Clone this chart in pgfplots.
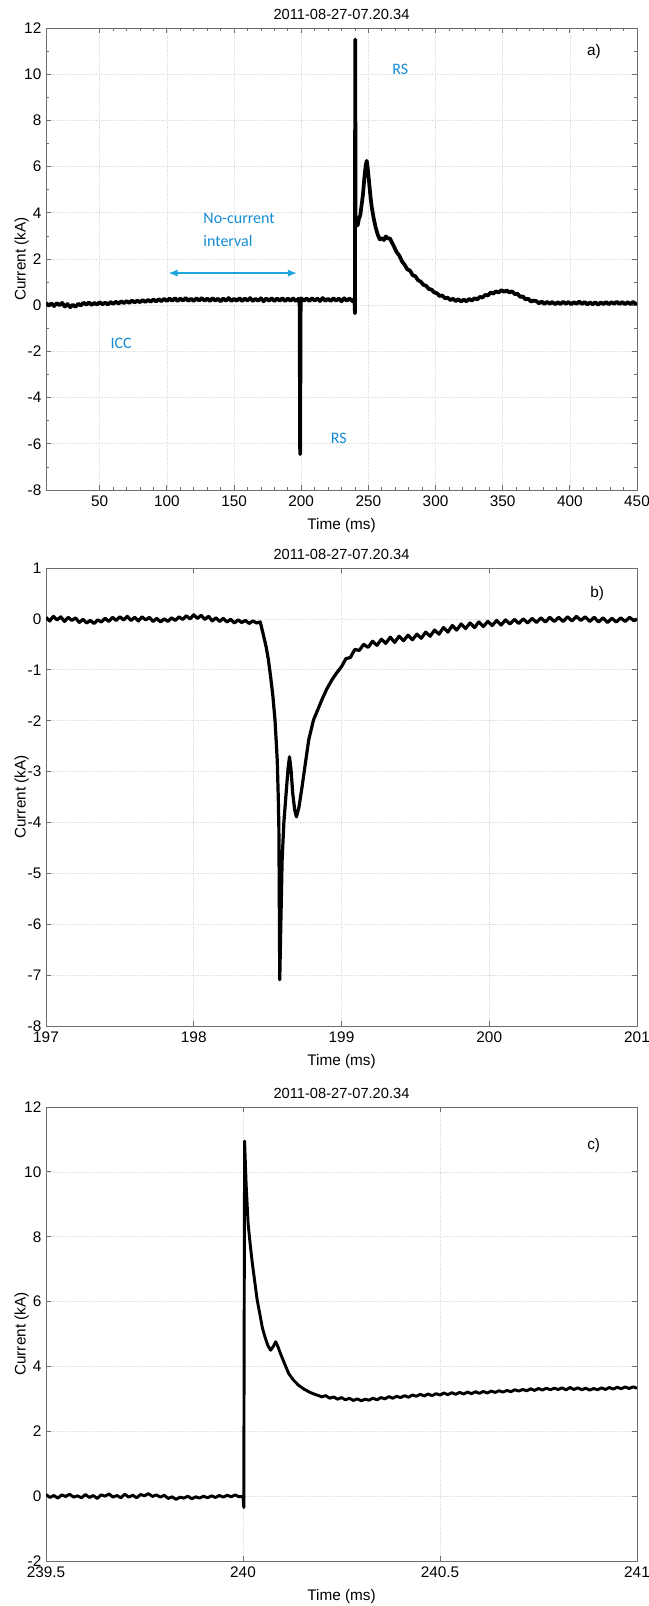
\documentclass[border=0pt]{standalone}
\usepackage{fontspec}
\setmainfont{Liberation Sans}
\newfontfamily\annofont{Carlito}
\usepackage{pgfplots}
\pgfplotsset{compat=1.18}
\usetikzlibrary{arrows.meta}
\definecolor{annoblue}{RGB}{20,140,210}
\definecolor{arrowblue}{RGB}{30,165,222}
\definecolor{axgray}{RGB}{110,110,110}
\pgfplotsset{
  matlab/.style={
    scale only axis, width=443.25pt,
    axis line style={axgray, line width=0.6pt},
    tick style={axgray, line width=0.6pt},
    major tick length=4pt, minor tick length=2pt,
    tick align=inside,
    xmajorgrids, ymajorgrids,
    major grid style={black!13, line width=0.5pt, dash pattern=on 1pt off 0.8pt},
    ticklabel style={font=\fontsize{11.5}{13}\selectfont},
    xticklabel style={yshift=-1pt},
    label style={font=\fontsize{11.5}{13}\selectfont},
    xlabel style={yshift=-2pt},
    ylabel style={at={(axis description cs:-0.0413,0.5)}, anchor=center},
    title style={font=\fontsize{11}{13}\selectfont, yshift=-3pt},
    /pgf/number format/assume math mode=true,
    xlabel={Time (ms)}, ylabel={Current (kA)},
    title={2011-08-27-07.20.34},
    anchor=north west,
  },
  trace/.style={black, line width=#1, line join=round, mark=none},
}
\begin{document}
\begin{tikzpicture}
\useasboundingbox (0,0) rectangle (486.75pt,-1204.5pt);
% ---------------- panel a ----------------
\begin{axis}[matlab, at={(34.5pt,-21pt)}, height=346.5pt,
  xmin=10, xmax=450, ymin=-8, ymax=12,
  xtick={50,100,...,450}, ytick={-8,-6,...,12},
  minor x tick num=4, minor y tick num=1]
\addplot[trace=2.8pt] coordinates {
(10,0.10)(12,-0.02)(14,0.08)(16,-0.04)(18,0.09)(20,0.00)(22,0.10)(24,-0.06)(26,0.05)(28,-0.09)
(30,0.02)(32,-0.07)(34,0.06)(36,-0.01)(38,0.11)(40,0.02)(42,0.12)(44,0.01)(46,0.10)(48,0.03)
(50,0.13)(52,0.04)(54,0.11)(56,0.03)(58,0.14)(60,0.06)(62,0.15)(64,0.07)(66,0.17)(68,0.09)
(70,0.18)(72,0.10)(74,0.20)(76,0.12)(78,0.20)(80,0.13)(82,0.22)(84,0.14)(86,0.23)(88,0.15)
(90,0.25)(92,0.16)(94,0.26)(96,0.17)(98,0.28)(100,0.18)(102,0.29)(104,0.19)(106,0.30)(108,0.18)
(110,0.29)(112,0.20)(114,0.31)(116,0.19)(118,0.28)(120,0.18)(122,0.30)(124,0.20)(126,0.31)(128,0.19)
(130,0.29)(132,0.18)(134,0.30)(136,0.20)(138,0.28)(140,0.17)(142,0.29)(144,0.19)(146,0.31)(148,0.18)
(150,0.28)(152,0.19)(154,0.30)(156,0.18)(158,0.29)(160,0.20)(162,0.31)(164,0.18)(166,0.28)(168,0.19)
(170,0.30)(172,0.17)(174,0.29)(176,0.19)(178,0.30)(180,0.18)(182,0.29)(184,0.20)(186,0.30)(188,0.18)
(190,0.29)(192,0.19)(194,0.30)(196,0.18)(198,0.28)(198.8,0.22)(199.2,-6.45)(199.6,0.20)
(200,0.30)(202,0.19)(204,0.29)(206,0.18)(208,0.30)(210,0.20)(212,0.29)(214,0.18)(216,0.31)(218,0.19)
(220,0.28)(222,0.18)(224,0.30)(226,0.20)(228,0.29)(230,0.17)(232,0.30)(234,0.19)(236,0.29)(238,0.18)
(239.6,0.28)(240,-0.35)(240.2,11.5)(240.5,3.4)
(241,3.7)(242,3.45)(243,3.75)(244,3.9)(245,4.35)(246,4.8)(247,5.5)(248,6.05)(248.8,6.25)(249.5,5.95)
(250.5,5.35)(251.5,4.75)(252.5,4.25)(254,3.75)(255.5,3.35)(257,3.05)(258.5,2.85)(260,2.9)(261.5,2.82)
(263,2.98)(264.5,2.88)(266,2.9)(267.5,2.72)(269,2.55)(271,2.3)(273,2.15)(275,1.9)(277,1.75)(279,1.55)
(281,1.5)(283,1.3)(285,1.25)(287,1.08)(289,1.02)(291,0.88)(293,0.84)(295,0.7)(297,0.68)(299,0.55)
(301,0.52)(303,0.4)(305,0.42)(307,0.3)(309,0.33)(311,0.22)(313,0.28)(315,0.18)(317,0.26)(319,0.16)
(321,0.24)(323,0.17)(325,0.27)(327,0.2)(329,0.3)(331,0.25)(333,0.36)(335,0.33)(337,0.45)(339,0.42)
(341,0.55)(343,0.5)(345,0.6)(347,0.55)(349,0.65)(351,0.58)(353,0.64)(355,0.55)(357,0.6)(359,0.48)
(361,0.5)(363,0.36)(365,0.38)(367,0.25)(369,0.28)(371,0.16)(373,0.2)
(375,0.18)(377,0.08)(379,0.16)(381,0.05)(383,0.15)(385,0.06)(387,0.14)(389,0.04)(391,0.13)(393,0.05)
(395,0.15)(397,0.06)(399,0.14)(401,0.04)(403,0.13)(405,0.06)(407,0.16)(409,0.05)(411,0.14)(413,0.03)
(415,0.12)(417,0.04)(419,0.13)(421,0.02)(423,0.12)(425,0.05)(427,0.14)(429,0.04)(431,0.13)(433,0.06)
(435,0.15)(437,0.05)(439,0.14)(441,0.04)(443,0.13)(445,0.05)(447,0.14)(449,0.06)(450,0.1)
};
\node at (axis cs:418,10.97) {\fontsize{11.5}{13}\selectfont a)};
\node[annoblue, font=\annofont\fontsize{12}{14}\selectfont] at (axis cs:273.7,10.2) {RS};
\node[annoblue, font=\annofont\fontsize{12}{14}\selectfont] at (axis cs:228,-5.75) {RS};
\node[annoblue, font=\annofont\fontsize{12}{14}\selectfont] at (axis cs:66,-1.64) {ICC};
\node[annoblue, font=\annofont\fontsize{12}{17.3}\selectfont, align=left, anchor=west, inner sep=0pt] at (axis cs:127,3.24) {No-current\\interval};
\draw[arrowblue, line width=1.5pt, {Latex[length=7pt,width=5.5pt]}-{Latex[length=7pt,width=5.5pt]}] (axis cs:101,1.39) -- (axis cs:197,1.39);
\end{axis}
% ---------------- panel b ----------------
\begin{axis}[matlab, at={(34.5pt,-426pt)}, height=343.5pt,
  xmin=197, xmax=201, ymin=-8, ymax=1,
  xtick={197,198,199,200,201}, ytick={-8,-7,...,1}]
\addplot[trace=2.4pt] coordinates {
(197.000,0.03)(197.025,-0.04)(197.05,0.05)(197.075,-0.02)(197.1,0.04)(197.125,-0.05)(197.15,0.03)(197.175,-0.03)
(197.2,0.02)(197.225,-0.07)(197.25,-0.01)(197.275,-0.08)(197.3,-0.03)(197.325,-0.09)(197.35,-0.02)(197.375,-0.06)
(197.4,0.01)(197.425,-0.05)(197.45,0.03)(197.475,-0.03)(197.5,0.04)(197.525,-0.02)(197.55,0.05)(197.575,-0.03)
(197.6,0.03)(197.625,-0.04)(197.65,0.04)(197.675,-0.02)(197.7,0.03)(197.725,-0.05)(197.75,0.01)(197.775,-0.06)
(197.8,0.00)(197.825,-0.05)(197.85,0.02)(197.875,-0.03)(197.9,0.04)(197.925,-0.01)(197.95,0.06)(197.975,0.00)
(198.0,0.08)(198.025,0.01)(198.05,0.07)(198.075,-0.01)(198.1,0.05)(198.125,-0.04)(198.15,0.02)(198.175,-0.05)
(198.2,0.01)(198.225,-0.06)(198.25,-0.01)(198.275,-0.08)(198.3,-0.02)(198.325,-0.07)(198.35,-0.03)(198.375,-0.09)
(198.4,-0.04)(198.425,-0.08)(198.45,-0.06)
(198.47,-0.3)(198.49,-0.55)(198.505,-0.8)(198.52,-1.13)(198.535,-1.5)(198.55,-1.99)(198.565,-2.77)(198.572,-3.5)
(198.576,-4.08)(198.579,-5.5)(198.582,-7.09)(198.59,-5.9)(198.598,-4.75)(198.61,-4.0)(198.625,-3.43)(198.638,-2.95)
(198.648,-2.71)(198.658,-2.95)(198.67,-3.43)(198.683,-3.75)(198.695,-3.89)(198.712,-3.7)(198.733,-3.30)(198.755,-2.85)
(198.778,-2.38)(198.81,-1.99)(198.84,-1.78)(198.867,-1.59)(198.9,-1.38)(198.935,-1.20)(198.97,-1.05)(199.0,-0.94)
(199.03,-0.78)(199.06,-0.76)(199.09,-0.6)(199.12,-0.62)(199.15,-0.5)(199.18,-0.56)(199.21,-0.44)(199.24,-0.52)
(199.27,-0.4)(199.3,-0.48)(199.33,-0.36)(199.36,-0.46)(199.39,-0.34)(199.42,-0.43)(199.45,-0.32)(199.48,-0.41)
(199.51,-0.3)(199.54,-0.38)(199.57,-0.26)(199.6,-0.34)(199.63,-0.22)(199.66,-0.3)(199.69,-0.17)(199.72,-0.26)
(199.75,-0.13)(199.78,-0.22)(199.81,-0.1)(199.84,-0.19)(199.87,-0.08)(199.9,-0.17)(199.93,-0.06)(199.96,-0.15)
(199.99,-0.05)(200.02,-0.13)(200.05,-0.03)(200.08,-0.12)(200.11,-0.02)(200.14,-0.1)(200.17,-0.01)(200.2,-0.09)
(200.23,0.0)(200.26,-0.08)(200.29,0.01)(200.32,-0.07)(200.35,0.02)(200.38,-0.06)(200.41,0.03)(200.44,-0.05)
(200.47,0.03)(200.5,-0.05)(200.53,0.04)(200.56,-0.04)(200.59,0.05)(200.62,-0.03)(200.65,0.04)(200.68,-0.05)
(200.71,0.03)(200.74,-0.06)(200.77,0.02)(200.8,-0.07)(200.83,0.01)(200.86,-0.06)(200.89,0.02)(200.92,-0.05)
(200.95,0.03)(200.98,-0.04)(201.0,0.0)
};
\node at (axis cs:200.73,0.49) {\fontsize{11.5}{13}\selectfont b)};
\end{axis}
% ---------------- panel c ----------------
\begin{axis}[matlab, at={(34.5pt,-830.25pt)}, height=340.5pt,
  xmin=239.5, xmax=241, ymin=-2, ymax=12,
  xtick={239.5,240,240.5,241}, ytick={-2,0,...,12}]
\addplot[trace=2.2pt] coordinates {
(239.50,0.05)(239.51,-0.04)(239.52,0.02)(239.53,-0.06)(239.54,0.04)(239.55,-0.01)(239.56,0.06)(239.57,-0.03)(239.58,0.01)(239.59,-0.05)
(239.60,0.05)(239.61,-0.04)(239.62,0.02)(239.63,-0.07)(239.64,0.04)(239.65,0.00)(239.66,0.07)(239.67,-0.03)(239.68,0.02)(239.69,-0.05)
(239.70,0.06)(239.71,-0.03)(239.72,0.03)(239.73,-0.05)(239.74,0.05)(239.75,0.01)(239.76,0.08)(239.77,-0.01)(239.78,0.04)(239.79,-0.03)
(239.80,0.03)(239.81,-0.07)(239.82,-0.02)(239.83,-0.10)(239.84,-0.03)(239.85,-0.06)(239.86,0.00)(239.87,-0.08)(239.88,-0.02)(239.89,-0.06)
(239.90,0.00)(239.91,-0.05)(239.92,0.01)(239.93,-0.04)(239.94,0.02)(239.95,-0.03)(239.96,0.03)(239.97,-0.02)(239.98,0.04)(239.99,-0.02)
(240.000,0.0)(240.002,-0.35)(240.004,10.95)(240.008,9.6)(240.013,8.4)(240.018,7.8)(240.023,7.25)(240.03,6.6)(240.036,6.05)
(240.043,5.6)(240.049,5.2)(240.056,4.9)(240.063,4.65)(240.07,4.5)(240.077,4.62)(240.083,4.76)(240.089,4.6)(240.095,4.4)
(240.105,4.1)(240.116,3.78)(240.128,3.58)(240.141,3.42)(240.155,3.3)(240.17,3.2)(240.18,3.15)(240.192,3.1)
(240.20,3.06)(240.21,3.1)(240.22,3.02)(240.23,3.06)(240.24,2.99)(240.25,3.04)(240.26,2.97)(240.27,3.02)(240.28,2.95)(240.29,3.0)
(240.30,2.94)(240.31,2.99)(240.32,2.96)(240.33,3.02)(240.34,2.97)(240.35,3.04)(240.36,3.0)(240.37,3.07)(240.38,3.02)(240.39,3.08)
(240.40,3.04)(240.41,3.1)(240.42,3.05)(240.43,3.12)(240.44,3.08)(240.45,3.14)(240.46,3.09)(240.47,3.15)(240.48,3.1)(240.49,3.16)
(240.50,3.12)(240.51,3.18)(240.52,3.13)(240.53,3.19)(240.54,3.14)(240.55,3.2)(240.56,3.15)(240.57,3.21)(240.58,3.16)(240.59,3.22)
(240.60,3.17)(240.61,3.23)(240.62,3.18)(240.63,3.24)(240.64,3.2)(240.65,3.25)(240.66,3.21)(240.67,3.26)(240.68,3.22)(240.69,3.28)
(240.70,3.24)(240.71,3.29)(240.72,3.25)(240.73,3.31)(240.74,3.26)(240.75,3.32)(240.76,3.27)(240.77,3.33)(240.78,3.28)(240.79,3.33)
(240.80,3.29)(240.81,3.34)(240.82,3.28)(240.83,3.35)(240.84,3.29)(240.85,3.34)(240.86,3.28)(240.87,3.33)(240.88,3.27)(240.89,3.32)
(240.90,3.28)(240.91,3.34)(240.92,3.29)(240.93,3.35)(240.94,3.3)(240.95,3.36)(240.96,3.31)(240.97,3.37)(240.98,3.32)(240.99,3.37)
(241.0,3.33)
};
\node at (axis cs:240.89,10.8) {\fontsize{11.5}{13}\selectfont c)};
\end{axis}
\end{tikzpicture}
\end{document}
